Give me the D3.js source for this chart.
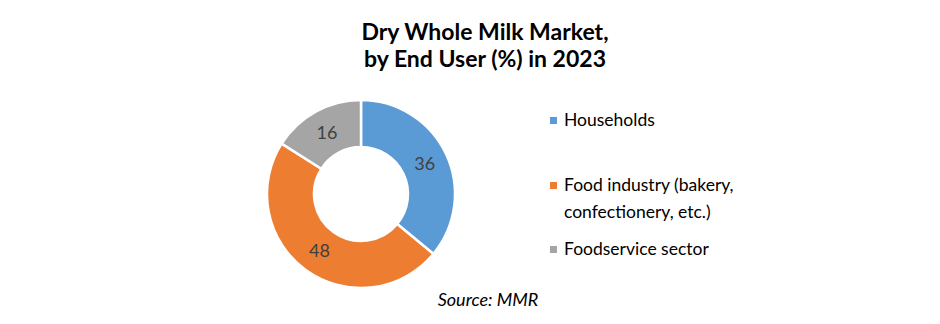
<!DOCTYPE html>
<html lang="en">
<head>
  <meta charset="UTF-8">
  <title>Dry Whole Milk Market</title>
  <script src="https://d3js.org/d3.v7.min.js"></script>
  <style>
    body { margin: 0; background: #fff; }
    text { font-family: Lato, "Open Sans", sans-serif; }
  </style>
</head>
<body>
  <div id="chart"></div>

  <script>
    const categories = ["Households", "Food industry (bakery, confectionery, etc.)", "Foodservice sector"];
    const legendLines = [["Households"], ["Food industry (bakery,", "confectionery, etc.)"], ["Foodservice sector"]];
    const shares = [36, 48, 16];
    const colors = ["#5B9BD5", "#ED7D31", "#A5A5A5"];

    const width = 940, height = 324;
    const cx = 361, cy = 194, outerR = 94, innerR = 47;

    const svg = d3.select("#chart")
                  .append("svg")
                  .attr("width", width)
                  .attr("height", height);

    // title
    const title = svg.append("text")
       .attr("text-anchor", "middle")
       .attr("font-weight", "bold")
       .style("font-size", "23px")
       .attr("fill", "#000");
    title.append("tspan").attr("x", 485).attr("y", 40).text("Dry Whole Milk Market,");
    title.append("tspan").attr("x", 485).attr("y", 67).text("by End User (%) in 2023");

    const data = categories.map((c, i) => ({ name: c, value: shares[i], color: colors[i] }));

    const pie = d3.pie().sort(null).value(d => d.value);
    const arc = d3.arc().innerRadius(innerR).outerRadius(outerR);
    const labelArc = d3.arc().innerRadius((innerR + outerR) / 2).outerRadius((innerR + outerR) / 2);

    const g = svg.append("g").attr("transform", `translate(${cx},${cy})`);

    const arcs = pie(data);

    g.selectAll(".slice")
     .data(arcs)
     .enter()
     .append("path")
     .attr("class", "slice")
     .attr("d", arc)
     .attr("fill", d => d.data.color)
     .attr("stroke", "#fff")
     .attr("stroke-width", 2.5);

    g.selectAll(".label")
     .data(arcs)
     .enter()
     .append("text")
     .attr("class", "label")
     .attr("transform", d => `translate(${labelArc.centroid(d)})`)
     .attr("text-anchor", "middle")
     .attr("dy", "0.35em")
     .style("font-size", "18px")
     .attr("fill", "#404040")
     .text(d => d.data.value);

    // legend
    const legendY = [120, 185, 249];
    const legend = svg.selectAll(".legend")
       .data(data)
       .enter()
       .append("g")
       .attr("class", "legend")
       .attr("transform", (d, i) => `translate(550,${legendY[i]})`);

    legend.append("rect")
       .attr("x", 0)
       .attr("y", -3)
       .attr("width", 7)
       .attr("height", 7)
       .attr("fill", d => d.color);

    legend.append("text")
       .style("font-size", "17.5px")
       .attr("fill", "#000")
       .selectAll("tspan")
       .data((d, i) => legendLines[i])
       .enter()
       .append("tspan")
       .attr("x", 14)
       .attr("dy", (d, j) => j === 0 ? "0.35em" : "1.55em")
       .text(d => d);

    svg.append("text")
       .attr("x", 488)
       .attr("y", 306)
       .attr("text-anchor", "middle")
       .style("font-size", "18px")
       .style("font-style", "italic")
       .attr("fill", "#000")
       .text("Source: MMR");
  </script>
</body>
</html>
